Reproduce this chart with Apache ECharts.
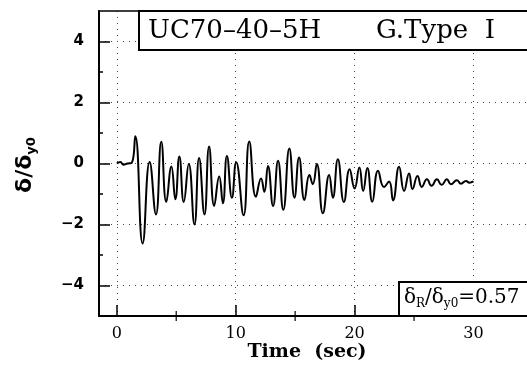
<!DOCTYPE html>
<html>
<head>
<meta charset="utf-8">
<script src="https://cdn.jsdelivr.net/npm/echarts@6/dist/echarts.min.js"></script>
<style>html,body{margin:0;padding:0;background:#fff}#c{width:527px;height:373px}</style>
</head>
<body>
<div id="c"></div>
<script>
// Time (sec) of the turning points of the response trace
var times = [0,0.3,0.56,0.9,1.25,1.55,2.17,2.76,3.29,3.74,4.16,4.59,4.92,5.26,5.63,6.05,6.53,6.92,7.37,7.76,8.19,8.61,8.92,9.26,9.68,10.04,10.66,11.14,11.7,12.13,12.41,12.71,13.14,13.56,14.0,14.51,14.94,15.33,15.78,16.2,16.48,16.82,17.33,17.86,18.17,18.59,19.1,19.58,20.0,20.4,20.72,21.07,21.49,21.97,22.47,22.9,23.23,23.74,24.16,24.58,24.87,25.29,25.65,26.08,26.47,26.92,27.32,27.76,28.1,28.6,28.95,29.37,29.65,30.0];
// δ/δy0 at those times
var ratios = [0,0.05,-0.04,0.0,0.02,0.89,-2.62,0.05,-1.67,0.71,-1.26,-0.1,-1.17,0.23,-1.26,-0.02,-2.0,0.18,-1.67,0.56,-1.39,-0.43,-1.30,0.25,-1.12,0.04,-1.70,0.72,-1.09,-0.49,-0.93,-0.08,-1.39,0.09,-1.52,0.49,-1.12,0.2,-1.2,-0.38,-0.68,-0.02,-1.63,-0.38,-1.12,0.14,-1.26,-0.19,-0.82,-0.13,-0.9,-0.15,-1.25,-0.24,-0.77,-0.59,-1.21,-0.11,-0.9,-0.33,-0.84,-0.41,-0.77,-0.52,-0.73,-0.52,-0.70,-0.52,-0.68,-0.55,-0.66,-0.57,-0.63,-0.59];
var xTickLabels = [0,10,20,30];
var xMinorTicks = [5,15,25];
var yTickLabels = [-4,-2,0,2,4];
var yMinorTicks = [-3,-1,1,3];
var titleLeft = 'UC70\u201340\u20135H';
var titleRight = 'G.Type  I';
var residualText = '0.57';

var chart = echarts.init(document.getElementById('c'), null, {renderer:'canvas'});
var data = times.map(function(t,i){return [t, ratios[i]];});
var dotted = {color:'#444', width:1, type:[1,5]};
var XMIN = -1.5, XMAX = 34.5;
var option = {
  animation:false,
  backgroundColor:'#fff',
  grid:{left:99, right:0, top:11, bottom:57, show:false},
  xAxis:[{
    type:'value', min:XMIN, max:XMAX, position:'bottom',
    axisLine:{show:true, onZero:false, lineStyle:{color:'#000', width:2}},
    axisTick:{show:true, customValues:xTickLabels, inside:true, length:11, lineStyle:{color:'#000', width:1.5}},
    minorTick:{show:false},
    axisLabel:{customValues:xTickLabels, margin:10, color:'#000', fontFamily:'DejaVu Serif', fontSize:16},
    splitLine:{show:true, lineStyle:dotted}
  },{
    type:'value', min:XMIN, max:XMAX, position:'top',
    axisLine:{show:true, onZero:false, lineStyle:{color:'#000', width:1.5}},
    axisTick:{show:false}, axisLabel:{show:false}, splitLine:{show:false}
  }],
  yAxis:[{
    type:'value', min:-5, max:5, position:'left',
    axisLine:{show:true, onZero:false, lineStyle:{color:'#000', width:2}},
    axisTick:{show:true, customValues:yTickLabels, inside:true, length:11, lineStyle:{color:'#000', width:1.5}},
    axisLabel:{customValues:yTickLabels, margin:15, color:'#000', fontFamily:'DejaVu Sans', fontWeight:'bold', fontSize:15,
      formatter:function(v){ return v<0 ? '\u2212'+Math.abs(v) : String(v);}},
    splitLine:{show:true, lineStyle:dotted}
  },{
    type:'value', min:-5, max:5, position:'left',
    axisLine:{show:false, onZero:false},
    axisTick:{show:true, customValues:yMinorTicks, inside:true, length:4, lineStyle:{color:'#000', width:1.5}},
    axisLabel:{show:false}, splitLine:{show:false}
  }],
  series:[{
    type:'line', data:data, xAxisIndex:0, yAxisIndex:0, smooth:0.5, symbol:'none',
    lineStyle:{color:'#000', width:2}
  },{
    type:'scatter', data:xMinorTicks.map(function(t){return [t,-5];}), xAxisIndex:0, yAxisIndex:0,
    symbol:'rect', symbolSize:[1.5,10], itemStyle:{color:'#000'}, silent:true
  }],
  graphic:[
    {type:'rect', z:100, shape:{x:139, y:11, width:420, height:39}, style:{fill:'#fff', stroke:'#000', lineWidth:2}},
    {type:'text', z:101, x:148, y:31, style:{text:titleLeft, font:'26px "DejaVu Serif"', fill:'#000', textAlign:'left', textVerticalAlign:'middle'}},
    {type:'text', z:101, x:376, y:31, style:{text:titleRight, font:'26px "DejaVu Serif"', fill:'#000', textAlign:'left', textVerticalAlign:'middle'}},
    {type:'rect', z:100, shape:{x:399, y:282, width:160, height:34}, style:{fill:'#fff', stroke:'#000', lineWidth:2}},
    {type:'text', z:101, x:404, y:298, style:{
      text:'{a|\u03b4}{s|R}{a|/\u03b4}{s|y0}{a|=' + residualText + '}',
      textAlign:'left', textVerticalAlign:'middle',
      rich:{
        a:{fontFamily:'DejaVu Serif', fontSize:20, lineHeight:24, color:'#000'},
        s:{fontFamily:'DejaVu Serif', fontSize:12, lineHeight:14, verticalAlign:'bottom', color:'#000', padding:[6,0,0,0]}
      }}},
    {type:'text', z:101, x:307, y:352, style:{text:'Time  (sec)', font:'bold 19px "DejaVu Serif"', fill:'#000', textAlign:'center', textVerticalAlign:'middle'}},
    {type:'text', z:101, x:25, y:165, rotation:Math.PI/2, style:{
      text:'{a|\u03b4/\u03b4}{s|y0}', textAlign:'center', textVerticalAlign:'middle',
      rich:{
        a:{fontFamily:'DejaVu Sans', fontWeight:'bold', fontSize:22, lineHeight:26, color:'#000'},
        s:{fontFamily:'DejaVu Sans', fontWeight:'bold', fontSize:13, lineHeight:16, verticalAlign:'bottom', color:'#000', padding:[6,0,0,0]}
      }}}
  ]
};
chart.setOption(option);
</script>
</body>
</html>
